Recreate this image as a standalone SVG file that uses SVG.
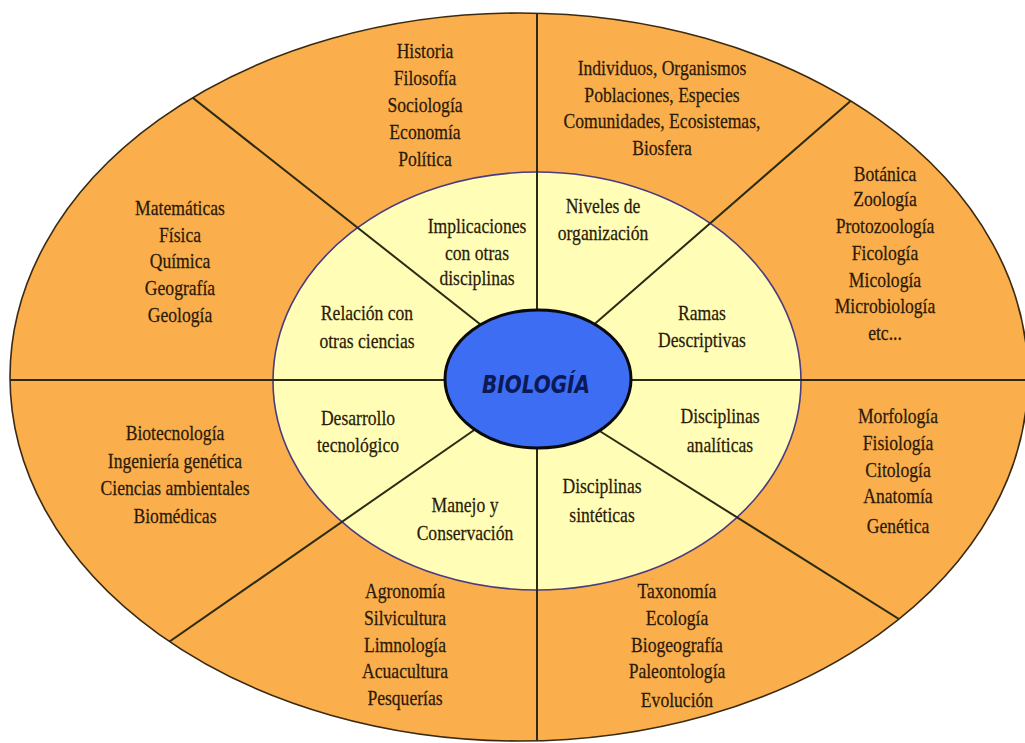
<svg xmlns="http://www.w3.org/2000/svg" width="1025" height="743" viewBox="0 0 1025 743">
<style>
.t{font-family:"Liberation Serif","Times New Roman",serif;font-size:22px;fill:#2a1a08;text-anchor:middle;stroke:#2a1a08;stroke-width:0.25}
.ln{stroke:#2b2b12;stroke-width:2;fill:none}
</style>
<defs>
<clipPath id="outerClip"><ellipse cx="519" cy="377" rx="509" ry="364"/></clipPath>
</defs>
<rect width="1025" height="743" fill="#ffffff"/>
<g id="outer-ring">
<ellipse cx="519" cy="377" rx="509" ry="364" fill="#FAAE4C" stroke="#3a2a12" stroke-width="1.6"/>
</g>
<g id="inner-ring">
<ellipse cx="537" cy="381" rx="264" ry="209" fill="#FFFDB6" stroke="#4a3c80" stroke-width="1.6"/>
</g>
<g id="connectors" clip-path="url(#outerClip)">
<line class="ln" x1="0" y1="380" x2="1025" y2="380"/>
<line class="ln" x1="537" y1="0" x2="537" y2="743"/>
<line class="ln" x1="160" y1="72" x2="490" y2="332"/>
<line class="ln" x1="885" y1="71" x2="590" y2="328"/>
<line class="ln" x1="130" y1="669" x2="480" y2="426"/>
<line class="ln" x1="945" y1="648" x2="598" y2="430"/>
</g>
<g id="biologia">
<ellipse cx="538" cy="379" rx="93" ry="69" fill="#3D6DF2" stroke="#0a0a0a" stroke-width="3"/>
<text x="536" y="393" font-family="'DejaVu Sans',sans-serif" font-size="24" font-weight="bold" font-style="italic" fill="#0b1a55" text-anchor="middle" textLength="108" lengthAdjust="spacingAndGlyphs">BIOLOGÍA</text>
</g>
<g id="n-historia" transform="translate(425 0) scale(0.8 1)">
<text class="t" x="0" y="58">Historia</text>
<text class="t" x="0" y="85">Filosofía</text>
<text class="t" x="0" y="112">Sociología</text>
<text class="t" x="0" y="139">Economía</text>
<text class="t" x="0" y="166">Política</text>
</g>
<g id="n-matematicas" transform="translate(180 0) scale(0.8 1)">
<text class="t" x="0" y="215">Matemáticas</text>
<text class="t" x="0" y="242">Física</text>
<text class="t" x="0" y="268">Química</text>
<text class="t" x="0" y="295">Geografía</text>
<text class="t" x="0" y="322">Geología</text>
</g>
<g id="n-implicaciones" transform="translate(477 0) scale(0.8 1)">
<text class="t" x="0" y="233">Implicaciones</text>
<text class="t" x="0" y="260">con otras</text>
<text class="t" x="0" y="285">disciplinas</text>
</g>
<g id="n-relacion" transform="translate(367 0) scale(0.8 1)">
<text class="t" x="0" y="320">Relación con</text>
<text class="t" x="0" y="348">otras ciencias</text>
</g>
<g id="n-individuos" transform="translate(662 0) scale(0.8 1)">
<text class="t" x="0" y="75">Individuos, Organismos</text>
<text class="t" x="0" y="102">Poblaciones, Especies</text>
<text class="t" x="0" y="128">Comunidades, Ecosistemas,</text>
<text class="t" x="0" y="155">Biosfera</text>
</g>
<g id="n-niveles" transform="translate(603 0) scale(0.8 1)">
<text class="t" x="0" y="213">Niveles de</text>
<text class="t" x="0" y="240">organización</text>
</g>
<g id="n-botanica" transform="translate(885 0) scale(0.8 1)">
<text class="t" x="0" y="181">Botánica</text>
<text class="t" x="0" y="206">Zoología</text>
<text class="t" x="0" y="233">Protozoología</text>
<text class="t" x="0" y="260">Ficología</text>
<text class="t" x="0" y="287">Micología</text>
<text class="t" x="0" y="313">Microbiología</text>
<text class="t" x="0" y="340">etc...</text>
</g>
<g id="n-ramas" transform="translate(702 0) scale(0.8 1)">
<text class="t" x="0" y="320">Ramas</text>
<text class="t" x="0" y="347">Descriptivas</text>
</g>
<g id="n-desarrollo" transform="translate(358 0) scale(0.8 1)">
<text class="t" x="0" y="425">Desarrollo</text>
<text class="t" x="0" y="452">tecnológico</text>
</g>
<g id="n-biotecnologia" transform="translate(175 0) scale(0.8 1)">
<text class="t" x="0" y="440">Biotecnología</text>
<text class="t" x="0" y="468">Ingeniería genética</text>
<text class="t" x="0" y="495">Ciencias ambientales</text>
<text class="t" x="0" y="523">Biomédicas</text>
</g>
<g id="n-manejo" transform="translate(465 0) scale(0.8 1)">
<text class="t" x="0" y="512">Manejo y</text>
<text class="t" x="0" y="540">Conservación</text>
</g>
<g id="n-agronomia" transform="translate(405 0) scale(0.8 1)">
<text class="t" x="0" y="598">Agronomía</text>
<text class="t" x="0" y="625">Silvicultura</text>
<text class="t" x="0" y="652">Limnología</text>
<text class="t" x="0" y="678">Acuacultura</text>
<text class="t" x="0" y="705">Pesquerías</text>
</g>
<g id="n-analiticas" transform="translate(720 0) scale(0.8 1)">
<text class="t" x="0" y="423">Disciplinas</text>
<text class="t" x="0" y="452">analíticas</text>
</g>
<g id="n-sinteticas" transform="translate(602 0) scale(0.8 1)">
<text class="t" x="0" y="493">Disciplinas</text>
<text class="t" x="0" y="522">sintéticas</text>
</g>
<g id="n-morfologia" transform="translate(898 0) scale(0.8 1)">
<text class="t" x="0" y="423">Morfología</text>
<text class="t" x="0" y="450">Fisiología</text>
<text class="t" x="0" y="477">Citología</text>
<text class="t" x="0" y="503">Anatomía</text>
<text class="t" x="0" y="533">Genética</text>
</g>
<g id="n-taxonomia" transform="translate(677 0) scale(0.8 1)">
<text class="t" x="0" y="598">Taxonomía</text>
<text class="t" x="0" y="625">Ecología</text>
<text class="t" x="0" y="652">Biogeografía</text>
<text class="t" x="0" y="678">Paleontología</text>
<text class="t" x="0" y="707">Evolución</text>
</g>
</svg>
